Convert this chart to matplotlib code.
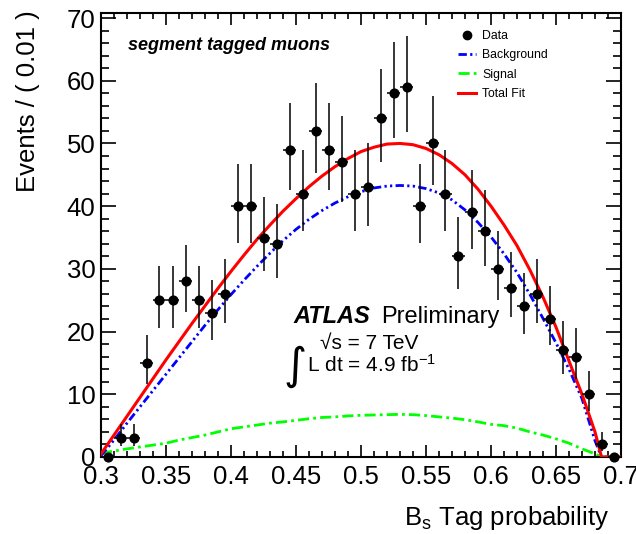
import numpy as np
import matplotlib
matplotlib.use("Agg")
import matplotlib.pyplot as plt
import matplotlib.ticker as mticker
from matplotlib.lines import Line2D

plt.rcParams['font.family'] = ['Liberation Sans', 'DejaVu Sans']
plt.rcParams['mathtext.fontset'] = 'custom'
plt.rcParams['mathtext.rm'] = 'Liberation Sans'
plt.rcParams['mathtext.it'] = 'Liberation Sans:italic'

# binned data (bin width 0.01)
bin_centers = [0.305, 0.315, 0.325, 0.335, 0.345, 0.355, 0.365, 0.375, 0.385, 0.395,
               0.405, 0.415, 0.425, 0.435, 0.445, 0.455, 0.465, 0.475, 0.485, 0.495,
               0.505, 0.515, 0.525, 0.535, 0.545, 0.555, 0.565, 0.575, 0.585, 0.595,
               0.605, 0.615, 0.625, 0.635, 0.645, 0.655, 0.665, 0.675, 0.685, 0.695]
counts = [0, 3, 3, 15, 25, 25, 28, 25, 23, 26,
          40, 40, 35, 34, 49, 42, 52, 49, 47, 42,
          43, 54, 58, 59, 40, 50, 42, 32, 39, 36,
          30, 27, 24, 26, 22, 17, 16, 10, 2, 0]
err_lo = [0, 1.3, 1.3, 3.4, 4.5, 4.5, 4.8, 4.5, 4.3, 4.6,
          5.8, 5.8, 5.4, 5.4, 6.5, 6.0, 6.7, 6.5, 6.4, 6.0,
          6.1, 6.9, 7.1, 7.2, 5.8, 6.6, 6.0, 5.2, 5.8, 5.5,
          5.0, 4.7, 4.4, 4.6, 4.2, 3.7, 3.5, 2.7, 1.0, 0]
err_hi = [0, 2.3, 2.3, 4.4, 5.5, 5.5, 5.8, 5.5, 5.3, 5.6,
          6.8, 6.8, 6.4, 6.4, 7.5, 7.0, 7.7, 7.5, 7.4, 7.0,
          7.1, 7.9, 8.1, 8.2, 6.8, 7.6, 7.0, 6.2, 6.8, 6.5,
          6.0, 5.7, 5.4, 5.6, 5.2, 4.7, 4.5, 3.7, 2.0, 0]

# fitted curves
curve_x = [0.30, 0.31, 0.32, 0.33, 0.34, 0.35, 0.36, 0.37, 0.38, 0.39,
           0.40, 0.41, 0.42, 0.43, 0.44, 0.45, 0.46, 0.47, 0.48, 0.49,
           0.50, 0.51, 0.52, 0.53, 0.54, 0.55, 0.56, 0.57, 0.58, 0.59,
           0.60, 0.61, 0.62, 0.63, 0.64, 0.65, 0.66, 0.67, 0.68, 0.685, 0.70]
total_fit = [0.5, 3.5, 6.5, 9.5, 12.5, 15.5, 18.4, 21.3, 24.1, 26.9,
             29.6, 32.2, 34.7, 37.0, 39.2, 41.2, 43.1, 44.8, 46.3, 47.6,
             48.7, 49.4, 49.9, 50.0, 49.8, 49.2, 48.2, 46.8, 45.0, 42.7,
             40.0, 37.0, 33.7, 29.8, 25.5, 20.7, 15.3, 10.0, 4.0, 0.0, 0.0]
background = [0.2, 2.7, 5.4, 8.0, 10.6, 13.2, 15.8, 18.4, 21.0, 23.5,
              25.9, 28.2, 30.4, 32.5, 34.5, 36.3, 37.9, 39.3, 40.5, 41.5,
              42.3, 42.9, 43.2, 43.3, 43.2, 42.8, 42.1, 41.0, 39.4, 37.4,
              35.1, 32.4, 29.4, 25.9, 22.1, 18.2, 14.0, 9.3, 2.6, 0.0, 0.0]
signal = [0.6, 0.95, 1.3, 1.6, 1.9, 2.2, 2.7, 3.1, 3.5, 4.0,
          4.5, 4.8, 5.1, 5.4, 5.6, 5.85, 6.1, 6.3, 6.4, 6.55,
          6.65, 6.7, 6.75, 6.8, 6.75, 6.6, 6.4, 6.2, 5.95, 5.6,
          5.2, 5.0, 4.6, 4.0, 3.5, 2.9, 2.2, 1.3, 0.5, 0.0, 0.0]

W, H = 636, 534
def fx(x):
    return x / W
def fy(y):
    return 1 - y / H

fig = plt.figure(figsize=(6.36, 5.34), dpi=100)
ax = fig.add_axes([fx(101), fy(457), 520 / W, 444 / H])

bg_style = (0, (3, 1.2, 0.8, 1.2, 0.8, 1.2))
sig_style = (0, (4, 1.5, 1, 1.5))

ax.plot(curve_x, signal, color='#00ff00', lw=2.0, ls=sig_style, zorder=2)
ax.plot(curve_x, background, color='#0000ff', lw=2.0, ls=bg_style, zorder=3)
ax.plot(curve_x, total_fit, color='#ff0000', lw=2.2, zorder=4)
ax.errorbar(bin_centers, counts, yerr=[err_lo, err_hi], xerr=0.005, fmt='o',
            color='black', ms=6.3, elinewidth=1.1, capsize=0, zorder=5, clip_on=False)

ax.set_xlim(0.3, 0.7)
ax.set_ylim(0, 70.8)
ax.xaxis.set_major_locator(mticker.MultipleLocator(0.05))
ax.xaxis.set_minor_locator(mticker.MultipleLocator(0.01))
ax.yaxis.set_major_locator(mticker.MultipleLocator(10))
ax.yaxis.set_minor_locator(mticker.MultipleLocator(2))
ax.xaxis.set_major_formatter(mticker.FormatStrFormatter('%g'))
ax.tick_params(axis='both', which='both', direction='in', top=True, right=True,
               labelsize=18.5, width=1.2)
ax.tick_params(axis='x', which='major', length=8.6, pad=6)
ax.tick_params(axis='x', which='minor', length=4.3)
ax.tick_params(axis='y', which='major', length=10.8, pad=4)
ax.tick_params(axis='y', which='minor', length=5.8)
for s in ax.spines.values():
    s.set_linewidth(1.5)

fig.text(fx(28), fy(10), 'Events / ( 0.01 )', rotation=90, ha='center', va='top',
         fontsize=18.5)
fig.text(fx(609), fy(518), r'B$_\mathregular{s}$ Tag probability', ha='right',
         va='center', fontsize=18.5)

fig.text(fx(128), fy(50), 'segment tagged muons', fontsize=13, fontweight='bold',
         fontstyle='italic', va='baseline')
fig.text(fx(293), fy(323), 'ATLAS', fontsize=17, fontweight='bold', fontstyle='italic',
         va='baseline')
fig.text(fx(381), fy(323), 'Preliminary', fontsize=17, va='baseline')
fig.text(fx(320), fy(349), '\u221as = 7 TeV', fontsize=15, va='baseline')
fig.text(fx(307), fy(372), r'L dt = 4.9 fb$^\mathregular{-1}$', fontsize=15, va='baseline')
fig.text(fx(295), fy(366), '\u222b', fontsize=32, ha='center', va='center',
         family=['DejaVu Sans'])

handles = [
    Line2D([], [], marker='o', color='black', ls='none', ms=6),
    Line2D([], [], color='#0000ff', lw=2.0, ls=bg_style),
    Line2D([], [], color='#00ff00', lw=2.0, ls=sig_style),
    Line2D([], [], color='#ff0000', lw=2.2),
]
labels = ['Data', 'Background', 'Signal', 'Total Fit']
fig.legend(handles, labels, loc='upper left', bbox_to_anchor=(fx(458), fy(30)),
           frameon=False, fontsize=8.8, handlelength=1.5, handletextpad=0.5,
           labelspacing=0.6, borderpad=0, borderaxespad=0)

fig.savefig('out.png', dpi=100)
